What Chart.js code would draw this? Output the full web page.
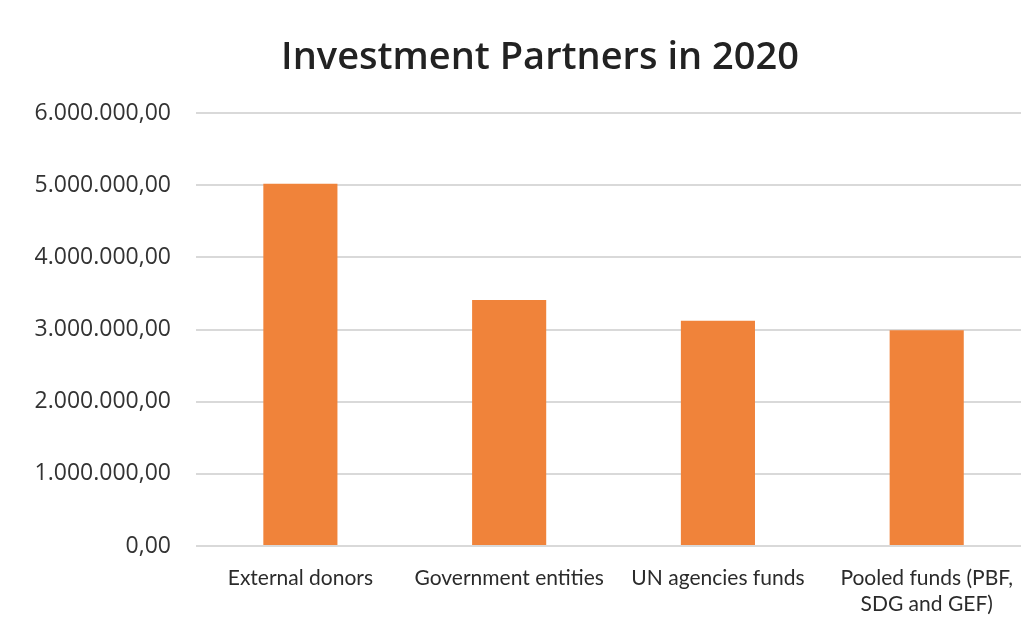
<!DOCTYPE html>
<html>
<head>
<meta charset="utf-8">
<title>Investment Partners in 2020</title>
<script src="https://cdn.jsdelivr.net/npm/chart.js@4/dist/chart.umd.min.js"></script>
<style>
  html, body { margin: 0; padding: 0; background: #fff; overflow: hidden; }
  #wrap { position: relative; width: 1021px; height: 617px; overflow: hidden; }
  #title {
    position: absolute; left: 0; width: 1080px; top: 29px;
    text-align: center; font-family: "Open Sans", sans-serif;
    font-weight: 600; font-size: 38px; color: #222; line-height: 50px;
  }
  canvas { position: absolute; left: 0; top: 0; }
</style>
</head>
<body>
<div id="wrap">
  <canvas id="partnersChart" width="1032" height="617"></canvas>
  <div id="title">Investment Partners in 2020</div>
</div>
<script>
// funding by partner type, 2020
const partners = [
  'External donors',
  'Government entities',
  'UN agencies funds',
  ['Pooled funds (PBF,', 'SDG and GEF)']
];
const amounts = [5020000, 3410000, 3120000, 2990000];
const yTickLabels = [
  '0,00', '1.000.000,00', '2.000.000,00', '3.000.000,00',
  '4.000.000,00', '5.000.000,00', '6.000.000,00'
];

const ctx = document.getElementById('partnersChart').getContext('2d');
new Chart(ctx, {
  type: 'bar',
  data: {
    labels: partners,
    datasets: [{
      label: 'Amount',
      data: amounts,
      backgroundColor: '#f0833a',
      categoryPercentage: 1,
      barPercentage: 0.355
    }]
  },
  options: {
    responsive: false,
    animation: false,
    devicePixelRatio: 1,
    layout: { padding: { top: 113, right: 0, bottom: 0, left: 0 } },
    plugins: {
      legend: { display: false },
      tooltip: { enabled: false }
    },
    scales: {
      x: {
        grid: { display: false, drawTicks: false },
        border: { display: false },
        ticks: {
          color: '#2b2b2b',
          padding: 19,
          maxRotation: 0,
          autoSkip: false,
          font: { family: 'Lato', size: 21, lineHeight: 1.25 }
        },
        afterFit(scale) { scale.height = 71; }
      },
      y: {
        min: 0,
        max: 6000000,
        grid: { color: '#d9d9d9', lineWidth: 2, drawTicks: false },
        border: { display: false },
        ticks: {
          stepSize: 1000000,
          color: '#333',
          padding: 25,
          font: { family: 'Open Sans', size: 23 },
          callback: (v) => yTickLabels[Math.round(v / 1000000)]
        },
        afterFit(scale) { scale.width = 196; }
      }
    }
  }
});
</script>
</body>
</html>
